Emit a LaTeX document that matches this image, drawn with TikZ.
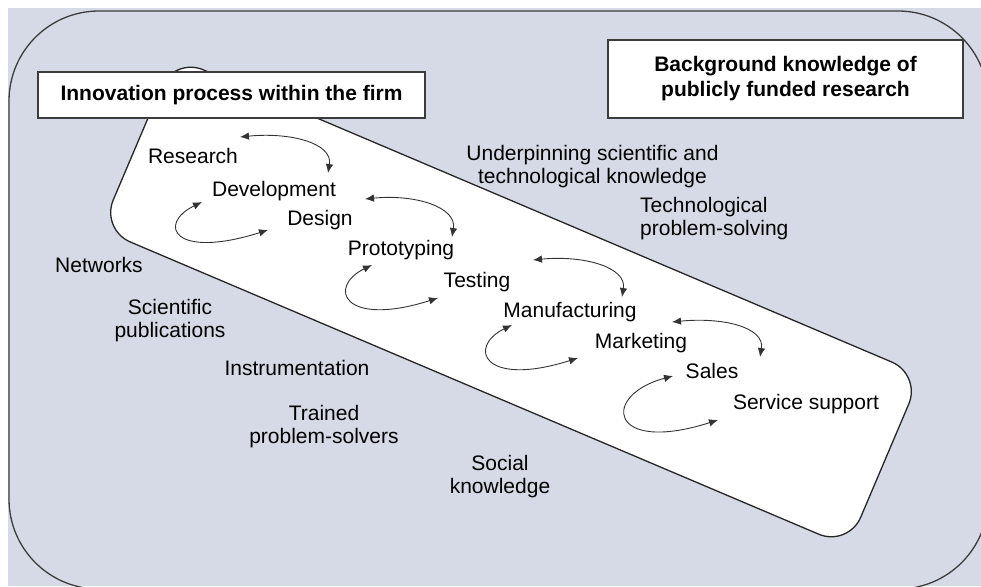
\documentclass[tikz,border=0pt]{standalone}
\usepackage{fontspec}
\setmainfont{Liberation Sans}
\usetikzlibrary{arrows.meta}
\definecolor{bgfill}{RGB}{214,218,230}
\definecolor{edge}{RGB}{60,60,60}
\begin{document}
\begin{tikzpicture}[x=1pt,y=-1pt,
  lbl/.style={inner sep=0pt, anchor=base, font=\fontsize{21}{23}\selectfont, text=black},
  hdr/.style={draw=edge, line width=1.5pt, fill=white, inner sep=0pt,
    font=\bfseries\fontsize{21}{25}\selectfont, align=center},
  cyc/.style={line width=0.9pt, draw=black!80,
    {Latex[length=9pt,width=7.5pt]}-{Latex[length=9pt,width=7.5pt]}}
]
\useasboundingbox (0,0) rectangle (981,586);
% background
\fill[bgfill] (7.5,8.5) rectangle (981,586);
\draw[edge, line width=1.3pt, rounded corners=90pt] (9,11) rectangle (988,589);
% diagonal band of the firm
\begin{scope}[shift={(511,302)}, rotate=-23]
  \draw[fill=white, draw=black!85, line width=1.3pt, rounded corners=32pt]
    (-406,-93.5) rectangle (406,93.5);
\end{scope}
% header boxes
\node[hdr, minimum width=387pt, minimum height=46pt] (firm) at (231.5,95)
  {Innovation process within the firm};
\node[hdr, minimum width=355pt, minimum height=78pt] (bgk) at (785.5,79)
  {Background knowledge of\\publicly funded research};
% process steps
\node[lbl] (research) at (193,163) {Research};
\node[lbl] (dev) at (274,196) {Development};
\node[lbl] (design) at (320,225) {Design};
\node[lbl] (proto) at (401,255) {Prototyping};
\node[lbl] (testing) at (477,287) {Testing};
\node[lbl] (manuf) at (570,317) {Manufacturing};
\node[lbl] (market) at (641,348) {Marketing};
\node[lbl] (sales) at (712,378) {Sales};
\node[lbl] (service) at (806,409) {Service support};
% knowledge labels (multi-line nodes are placed at their last baseline)
\node[lbl, align=center] (underpin) at (592.5,183)
  {Underpinning scientific and\\technological knowledge};
\node[lbl, align=left, anchor=base west] (techps) at (640,235)
  {Technological\\problem-solving};
\node[lbl] (networks) at (99,272) {Networks};
\node[lbl, align=center] (scipub) at (170,337) {Scientific\\publications};
\node[lbl] (instr) at (297,375) {Instrumentation};
\node[lbl, align=center] (trained) at (324,443) {Trained\\problem-solvers};
\node[lbl, align=center] (social) at (500,493) {Social\\knowledge};
% feedback arrows (upper arcs)
\draw[cyc] ([shift={(47,-26)}]research.base) .. controls +(50,-5) and +(5,-30) .. ([shift={(54,-23)}]dev.base);
\draw[cyc] ([shift={(45,-26)}]design.base) .. controls +(50,-5) and +(5,-30) .. ([shift={(51,-18)}]proto.base);
\draw[cyc] ([shift={(56,-27)}]testing.base) .. controls +(50,-5) and +(5,-30) .. ([shift={(52,-20)}]manuf.base);
\draw[cyc] ([shift={(31,-26)}]market.base) .. controls +(50,-5) and +(5,-30) .. ([shift={(48,-21)}]sales.base);
% feedback arrows (lower loops)
\draw[cyc] ([shift={(-72,6)}]dev.base) .. controls +(-45,22) and +(-95,30) .. ([shift={(-52,5)}]design.base);
\draw[cyc] ([shift={(-29,10)}]proto.base) .. controls +(-45,22) and +(-95,30) .. ([shift={(-39,11)}]testing.base);
\draw[cyc] ([shift={(-58,8)}]manuf.base) .. controls +(-45,22) and +(-95,30) .. ([shift={(-63,10)}]market.base);
\draw[cyc] ([shift={(-39,-2)}]sales.base) .. controls +(-72,19) and +(-110,35) .. ([shift={(-88,11)}]service.base);
\end{tikzpicture}
\end{document}
